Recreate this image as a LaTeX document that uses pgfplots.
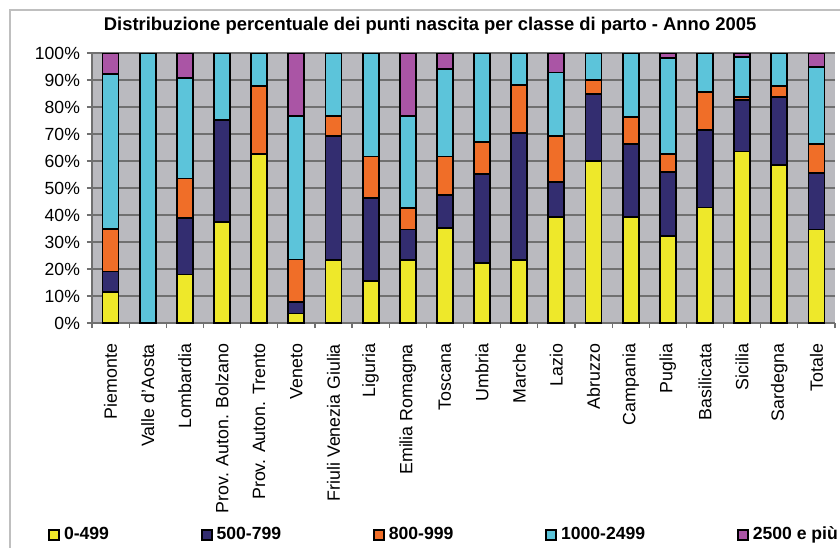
\documentclass[border=0pt]{standalone}
\usepackage{fontspec}
\setmainfont{Liberation Sans}
\usepackage{pgfplots}
\pgfplotsset{compat=1.18}

\definecolor{cA}{RGB}{238,232,42}
\definecolor{cB}{RGB}{51,45,112}
\definecolor{cC}{RGB}{240,110,40}
\definecolor{cD}{RGB}{92,196,218}
\definecolor{cE}{RGB}{170,85,165}
\definecolor{plotbg}{RGB}{186,186,191}
\definecolor{gridc}{RGB}{112,112,112}

\begin{document}
\begin{tikzpicture}[x=1pt,y=1pt]
\useasboundingbox (0,0) rectangle (420,273.5);
\fill[white] (0,0) rectangle (420,273.5);
\draw[gray!50, line width=1pt] (5,-1) -- (5,268.5) -- (421,268.5);
\begin{axis}[
  at={(46pt,112pt)}, anchor=south west,
  scale only axis, width=371.5pt, height=135pt,
  ybar stacked, bar width=8pt,
  xmin=-0.5, xmax=19.5, ymin=0, ymax=100,
  axis background/.style={fill=plotbg},
  axis lines=left, axis line style={-, gridc, line width=0.75pt},
  ymajorgrids, major grid style={gridc, line width=0.75pt},
  tick align=outside, major tick length=2.5pt, minor tick length=2.5pt,
  tick style={gridc, line width=0.6pt},
  xtick={0,...,19},
  major x tick style={draw=none},
  minor xtick={-0.5,0.5,...,19.5},
  xticklabels={Piemonte,Valle d'Aosta,Lombardia,Prov. Auton. Bolzano,Prov. Auton. Trento,Veneto,Friuli Venezia Giulia,Liguria,Emilia Romagna,Toscana,Umbria,Marche,Lazio,Abruzzo,Campania,Puglia,Basilicata,Sicilia,Sardegna,Totale},
  xticklabel shift=4.5pt,
  xticklabel style={rotate=90, anchor=east, font=\fontsize{8.9}{10}\selectfont},
  ytick={0,10,...,100},
  yticklabels={0\%,10\%,20\%,30\%,40\%,50\%,60\%,70\%,80\%,90\%,100\%},
  yticklabel style={font=\fontsize{8.8}{10}\selectfont},
  /pgf/number format/assume math mode=true,
  title={Distribuzione percentuale dei punti nascita per classe di parto - Anno 2005},
  title style={at={(0.455,1.056)}, anchor=center, font=\bfseries\fontsize{9.2}{11}\selectfont},
  every axis plot/.append style={draw=black, line width=0.9pt},
  legend columns=5,
  legend image code/.code={\draw[#1, line width=0.8pt] (0pt,-2.5pt) rectangle (5pt,2.5pt);},
  legend style={at={(-0.0592,-0.785)}, anchor=west, draw=none, fill=none,
    inner sep=0pt, font=\bfseries\fontsize{8.8}{10}\selectfont,
    /tikz/every even column/.append style={column sep=44pt}},
]
\addplot[fill=cA] coordinates {(0,11.4)(1,0)(2,18.0)(3,37.3)(4,62.7)(5,3.5)(6,23.2)(7,15.6)(8,23.2)(9,35.1)(10,22.2)(11,23.2)(12,39.3)(13,60.0)(14,39.3)(15,32.3)(16,42.8)(17,63.5)(18,58.5)(19,34.6)};
\addplot[fill=cB] coordinates {(0,7.7)(1,0)(2,20.9)(3,37.8)(4,0)(5,4.3)(6,46.2)(7,30.7)(8,11.4)(9,12.2)(10,33.1)(11,47.2)(12,12.8)(13,24.9)(14,27.1)(15,23.6)(16,28.8)(17,19.2)(18,25.1)(19,21.0)};
\addplot[fill=cC] coordinates {(0,15.7)(1,0)(2,14.6)(3,0)(4,25.0)(5,15.7)(6,7.4)(7,15.4)(8,8.0)(9,14.4)(10,11.6)(11,17.7)(12,17.3)(13,5.2)(14,9.9)(15,6.7)(16,14.0)(17,1.0)(18,4.1)(19,10.8)};
\addplot[fill=cD] coordinates {(0,57.5)(1,100)(2,37.2)(3,24.9)(4,12.3)(5,53.3)(6,23.2)(7,38.3)(8,34.2)(9,32.5)(10,33.1)(11,11.9)(12,23.4)(13,9.9)(14,23.7)(15,35.5)(16,14.4)(17,14.8)(18,12.3)(19,28.4)};
\addplot[fill=cE] coordinates {(0,7.7)(1,0)(2,9.3)(3,0)(4,0)(5,23.2)(6,0)(7,0)(8,23.2)(9,5.8)(10,0)(11,0)(12,7.2)(13,0)(14,0)(15,1.9)(16,0)(17,1.5)(18,0)(19,5.2)};
\legend{0-499,500-799,800-999,1000-2499,2500 e più}
\end{axis}
\end{tikzpicture}
\end{document}
